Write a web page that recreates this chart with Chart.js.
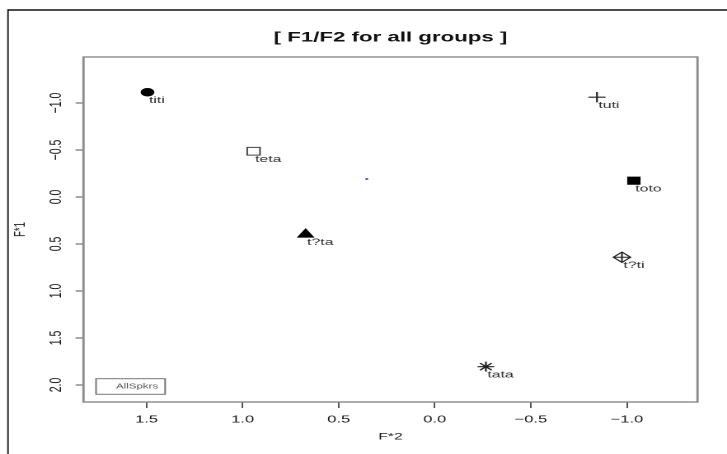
<!DOCTYPE html>
<html><head><meta charset="utf-8">
<script src="https://cdn.jsdelivr.net/npm/chart.js@4/dist/chart.umd.min.js"></script>
<style>
html,body{margin:0;padding:0;background:#fff;overflow:hidden}
#wrap{position:absolute;left:0;top:0;width:441px;height:454px;transform:scaleX(1.64853);transform-origin:0 0}
</style></head><body>
<div id="wrap"><canvas id="c"></canvas></div>
<script>
const groupNames = ['titi','teta','t?ta','tata','tuti','toto','t?ti'];
const f2Values = [1.495, 0.943, 0.672, -0.266, -0.844, -1.036, -0.974];
const f1Values = [-1.114, -0.486, 0.399, 1.805, -1.061, -0.173, 0.641];
const centroidF2 = [0.354];
const centroidF1 = [-0.191];
const xTickValues = [1.5, 1.0, 0.5, 0.0, -0.5, -1.0];
const yTickValues = [-1.0, -0.5, 0.0, 0.5, 1.0, 1.5, 2.0];
const legendText = 'AllSpkrs';
const titleText = '[ F1/F2 for all groups ]';
const xTitle = 'F*2';
const yTitle = 'F*1';

const FONT = '"Liberation Sans", Arial, Helvetica, sans-serif';
Chart.defaults.font.family = FONT;

const fmt = v => (v < 0 ? '\u2212' : '') + Math.abs(v).toFixed(1);

const framePlugin = {
  id: 'frame',
  beforeDraw(chart) {
    const ctx = chart.ctx;
    ctx.save();
    ctx.fillStyle = '#fff';
    ctx.fillRect(0, 0, chart.width, chart.height);
    ctx.strokeStyle = '#111';
    ctx.lineWidth = 1.4;
    ctx.beginPath();
    ctx.moveTo(chart.width, 10);
    ctx.lineTo(4.85, 10);
    ctx.stroke();
    ctx.lineWidth = 0.9;
    ctx.beginPath();
    ctx.moveTo(4.85, 9.3);
    ctx.lineTo(4.85, chart.height);
    ctx.stroke();
    ctx.restore();
  },
  beforeDatasetsDraw(chart) {
    const ca = chart.chartArea, ctx = chart.ctx;
    ctx.save();
    ctx.strokeStyle = '#8a8a8a';
    ctx.lineWidth = 1.4;
    ctx.strokeRect(ca.left, ca.top, ca.right - ca.left, ca.bottom - ca.top);
    ctx.restore();
  },
  afterDraw(chart) {
    const ca = chart.chartArea, ctx = chart.ctx;
    ctx.save();
    ctx.strokeStyle = '#777';
    ctx.lineWidth = 1;
    const lx = ca.left + 7.6, ly = ca.bottom - 23.3;
    ctx.strokeRect(lx, ly, 41.9, 15.6);
    ctx.fillStyle = '#555';
    ctx.font = '7px ' + FONT;
    ctx.textAlign = 'center';
    ctx.textBaseline = 'middle';
    ctx.fillText(legendText, ca.left + 32.5, ly + 8);
    ctx.restore();
  }
};

const pointLabels = {
  id: 'pointLabels',
  afterDatasetsDraw(chart) {
    const ctx = chart.ctx;
    const meta = chart.getDatasetMeta(0);
    ctx.save();
    ctx.font = '9.6px ' + FONT;
    ctx.fillStyle = '#333';
    ctx.textAlign = 'left';
    ctx.textBaseline = 'middle';
    meta.data.forEach((pt, i) => {
      ctx.fillText(groupNames[i], pt.x + 0.9, pt.y + 8);
    });
    ctx.restore();
  }
};

const pts = f2Values.map((x, i) => ({ x: x, y: f1Values[i] }));

new Chart(document.getElementById('c'), {
  type: 'scatter',
  data: {
    datasets: [{
      label: 'groups',
      data: pts,
      pointStyle: ['circle', 'rect', 'triangle', 'star', 'cross', 'rect', 'rectRot'],
      pointRadius: [3.7, 5.5, 5.3, 5, 5.2, 5, 5.2],
      backgroundColor: ['#000', '#fff', '#000', '#000', '#000', '#000', 'rgba(0,0,0,0)'],
      borderColor: ['#000', '#444', '#000', '#222', '#222', '#000', '#222'],
      borderWidth: [1, 1, 1, 1.1, 1.1, 1, 1]
    }, {
      label: 'diamond plus',
      data: [{ x: f2Values[6], y: f1Values[6] }],
      pointStyle: 'cross',
      pointRadius: 5.2,
      backgroundColor: '#222',
      borderColor: '#222',
      borderWidth: 1
    }, {
      label: 'centroid',
      data: centroidF2.map((x, i) => ({ x: x, y: centroidF1[i] })),
      pointStyle: 'circle',
      pointRadius: 1,
      backgroundColor: '#4a4aff',
      borderColor: '#4a4aff',
      borderWidth: 0
    }]
  },
  options: {
    responsive: true,
    maintainAspectRatio: false,
    animation: false,
    devicePixelRatio: 2,
    events: [],
    layout: { padding: { top: 10, left: 0, right: 17.9, bottom: 0 } },
    plugins: {
      legend: { display: false },
      tooltip: { enabled: false },
      title: {
        display: true, text: titleText, fullSize: false,
        color: '#111', font: { size: 13.5, weight: 'bold' },
        padding: { top: 19.9, bottom: 10.9 }
      }
    },
    scales: {
      x: {
        type: 'linear', position: 'bottom', reverse: true,
        min: -1.3672, max: 1.8281,
        afterBuildTicks: s => { s.ticks = xTickValues.map(v => ({ value: v })); },
        afterFit: s => { s.height = 52; },
        grid: { display: true, drawOnChartArea: false, drawTicks: true, tickLength: 6, color: '#555', lineWidth: 1 },
        border: { display: false },
        ticks: { autoSkip: false, minRotation: 0, maxRotation: 0, padding: 5.5, color: '#1a1a1a', font: { size: 10 }, callback: fmt },
        title: { display: true, text: xTitle, color: '#222', font: { size: 9.5 }, padding: { top: 0, bottom: 11.3 } }
      },
      y: {
        type: 'linear', position: 'left', reverse: true,
        min: -1.489, max: 2.181,
        afterBuildTicks: s => { s.ticks = yTickValues.map(v => ({ value: v })); },
        afterFit: s => { s.width = 50.65; },
        grid: { display: true, drawOnChartArea: false, drawTicks: true, tickLength: 4.8, color: '#555', lineWidth: 1 },
        border: { display: false },
        ticks: { autoSkip: false, minRotation: 90, maxRotation: 90, crossAlign: 'center', padding: 1.2, color: '#1a1a1a', font: { size: 10.5 }, callback: fmt },
        title: { display: true, text: yTitle, color: '#222', font: { size: 9.5 }, padding: { top: 6.9, bottom: 0 } }
      }
    }
  },
  plugins: [framePlugin, pointLabels]
});
</script>
</body></html>
